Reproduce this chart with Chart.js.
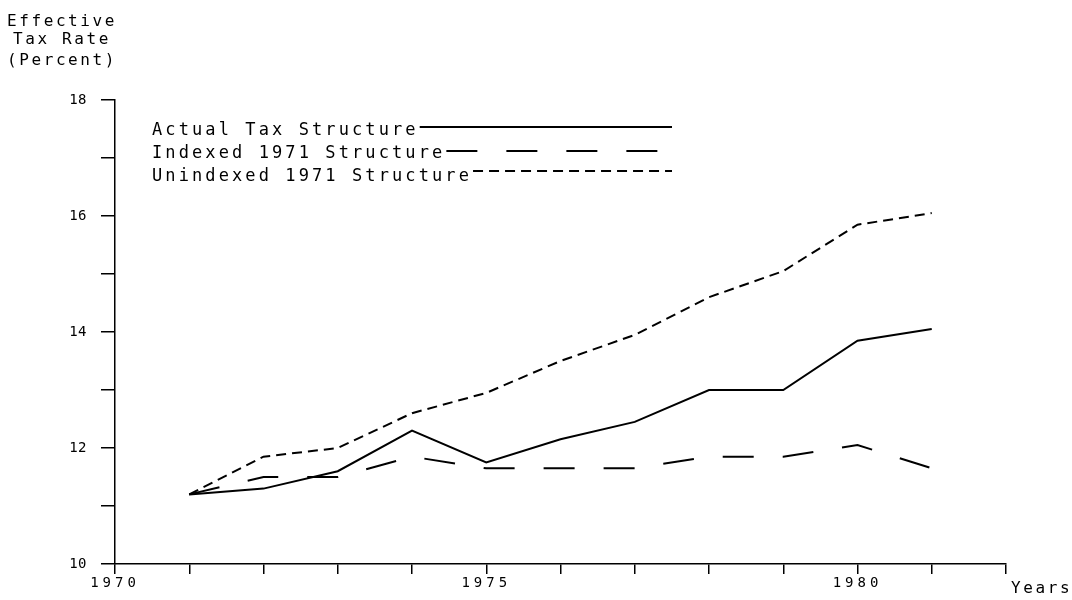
<!DOCTYPE html>
<html><head><meta charset="utf-8">
<script src="https://cdn.jsdelivr.net/npm/chart.js@4.4.1/dist/chart.umd.min.js"></script>
<style>html,body{margin:0;padding:0;background:#fff}canvas{display:block}</style>
</head><body>
<canvas id="c" width="1072" height="600"></canvas>
<script>
// ---- data ----
const years = [1971, 1972, 1973, 1974, 1975, 1976, 1977, 1978, 1979, 1980, 1981];
const actualTax = [11.2, 11.3, 11.6, 12.3, 11.75, 12.15, 12.45, 13.0, 13.0, 13.85, 14.05];
const indexed1971 = [11.2, 11.5, 11.5, 11.85, 11.65, 11.65, 11.65, 11.85, 11.85, 12.05, 11.65];
const unindexed1971 = [11.2, 11.85, 12.0, 12.6, 12.95, 13.5, 13.95, 14.6, 15.05, 15.85, 16.05];
const seriesLabels = ['Actual Tax Structure', 'Indexed 1971 Structure', 'Unindexed 1971 Structure'];
const yTickLabels = [10, 12, 14, 16, 18];
const xTickLabels = [1970, 1975, 1980];
const yTitleLines = ['Effective', 'Tax Rate', '(Percent)'];
const xTitle = 'Years';

const FONT = '"DejaVu Sans Mono", monospace';
const toPts = arr => years.map((y, i) => ({x: y, y: arr[i]}));

const decor = {
  id: 'decor',
  afterLayout(chart) {
    const s = chart.scales.y;
    if (s && !s._wrapped) {
      const o = s.drawLabels;
      s.drawLabels = function (a) {
        const c = this.ctx; const prev = c.letterSpacing;
        c.letterSpacing = '0.5px'; o.call(this, a); c.letterSpacing = prev;
      };
      s._wrapped = true;
    }
  },
  beforeDraw(chart) {
    const ctx = chart.ctx;
    ctx.save(); ctx.fillStyle = '#fff'; ctx.fillRect(0, 0, chart.width, chart.height); ctx.restore();
    ctx.letterSpacing = '4px';
  },
  afterDraw(chart) {
    const ctx = chart.ctx;
    ctx.save();
    ctx.fillStyle = '#000'; ctx.strokeStyle = '#000';
    ctx.letterSpacing = '2.6px';
    ctx.font = '16px ' + FONT;
    ctx.textAlign = 'center'; ctx.textBaseline = 'alphabetic';
    const tb = [26, 44, 65];
    yTitleLines.forEach((t, i) => ctx.fillText(t, 62, tb[i]));
    ctx.textAlign = 'left';
    ctx.fillText(xTitle, 1011, 593);
    ctx.font = '17px ' + FONT; ctx.letterSpacing = '3.1px';
    const rows = [{b: 135, ly: 127}, {b: 158, ly: 151}, {b: 181, ly: 171}];
    chart.data.datasets.forEach((ds, i) => {
      ctx.fillText(ds.label, 152, rows[i].b);
      const w = ctx.measureText(ds.label).width;
      ctx.beginPath(); ctx.setLineDash(ds.borderDash || []); ctx.lineWidth = 2;
      ctx.moveTo(152 + w + 1, rows[i].ly); ctx.lineTo(672, rows[i].ly); ctx.stroke();
    });
    ctx.restore();
  }
};

const lineDs = (label, arr, dash) => ({
  label, data: toPts(arr), borderColor: '#000', backgroundColor: '#000',
  borderWidth: 2, pointRadius: 0, tension: 0, fill: false, borderDash: dash, borderCapStyle: 'butt'
});

new Chart(document.getElementById('c'), {
  type: 'line',
  data: {
    datasets: [
      lineDs(seriesLabels[0], actualTax, []),
      lineDs(seriesLabels[1], indexed1971, [31, 29]),
      lineDs(seriesLabels[2], unindexed1971, [10, 6])
    ]
  },
  options: {
    responsive: false, animation: false, devicePixelRatio: 1,
    layout: {padding: {left: 0, top: 100, right: 66, bottom: 0}},
    plugins: {legend: {display: false}, tooltip: {enabled: false}},
    scales: {
      x: {
        type: 'linear', position: 'bottom', min: 1970, max: 1982,
        afterFit(s) { s.height = 36; },
        ticks: {
          stepSize: 1, autoSkip: false, maxRotation: 0, padding: 1, color: '#000',
          font: {family: FONT, size: 14},
          callback: v => xTickLabels.includes(v) ? String(v) : ''
        },
        grid: {drawOnChartArea: false, tickLength: 10, color: '#000', lineWidth: 1.5},
        border: {display: true, color: '#000', width: 1.5}
      },
      y: {
        min: 10, max: 18,
        afterFit(s) { s.width = 115; },
        ticks: {
          stepSize: 1, autoSkip: false, padding: 14, color: '#000',
          font: {family: FONT, size: 14},
          callback: v => yTickLabels.includes(v) ? String(v) : ''
        },
        grid: {drawOnChartArea: false, tickLength: 14, color: '#000', lineWidth: 1.5},
        border: {display: true, color: '#000', width: 1.5}
      }
    }
  },
  plugins: [decor]
});
</script>
</body></html>
